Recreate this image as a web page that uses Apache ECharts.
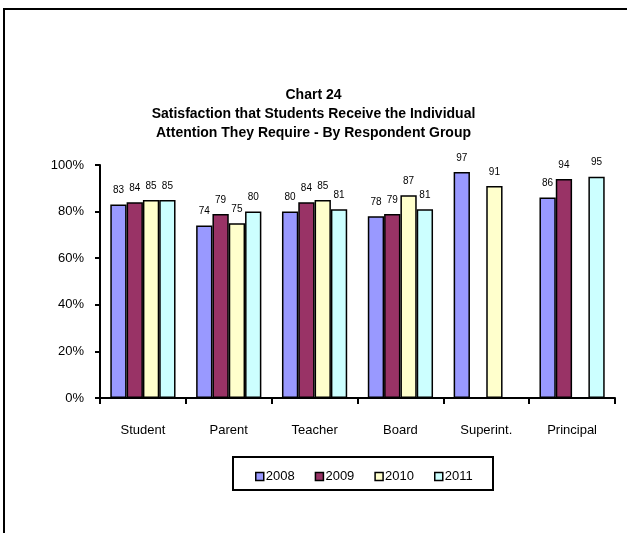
<!DOCTYPE html>
<html>
<head>
<meta charset="utf-8">
<script src="https://cdn.jsdelivr.net/npm/echarts@6/dist/echarts.min.js"></script>
<style>
  html, body { margin: 0; padding: 0; background: #fff; }
  #chart { width: 627px; height: 533px; }
</style>
</head>
<body>
<div id="chart"></div>
<script>
  var groups = ['Student', 'Parent', 'Teacher', 'Board', 'Superint.', 'Principal'];
  var years = ['2008', '2009', '2010', '2011'];
  var v2008 = [83, 74, 80, 78, 97, 86];
  var v2009 = [84, 79, 84, 79, null, 94];
  var v2010 = [85, 75, 85, 87, 91, null];
  var v2011 = [85, 80, 81, 81, null, 95];
  var yTicks = [0, 20, 40, 60, 80, 100];

  var colors = ['#9999ff', '#993366', '#ffffcc', '#ccffff'];
  var values = [v2008, v2009, v2010, v2011];
  var font = 'Arial, "Liberation Sans", sans-serif';

  var series = [];
  for (var i = 0; i < years.length; i++) {
    series.push({
      name: years[i],
      type: 'bar',
      data: values[i],
      barGap: '0%',
      barCategoryGap: '24%',
      itemStyle: { color: colors[i], borderColor: '#000', borderWidth: 1.5 },
      label: {
        show: true,
        position: 'top',
        distance: 9,
        color: '#000',
        fontSize: 10,
        fontFamily: font
      }
    });
  }

  var myChart = echarts.init(document.getElementById('chart'));
  myChart.setOption({
    animation: false,
    color: colors,
    title: {
      text: 'Chart 24\nSatisfaction that Students Receive the Individual\nAttention They Require - By Respondent Group',
      left: 'center',
      top: 81,
      textStyle: {
        fontFamily: font,
        fontSize: 14,
        fontWeight: 'bold',
        color: '#000',
        lineHeight: 19
      }
    },
    graphic: [{
      type: 'rect',
      shape: { x: 4, y: 9, width: 800, height: 800 },
      style: { fill: 'none', stroke: '#000', lineWidth: 2 }
    }, {
      type: 'rect',
      shape: { x: 233, y: 457, width: 260, height: 33 },
      style: { fill: 'none', stroke: '#000', lineWidth: 2 }
    }],
    legend: {
      data: years,
      top: 465,
      left: 250,
      itemWidth: 8,
      itemHeight: 8,
      itemGap: 20,
      icon: 'rect',
      itemStyle: { borderColor: '#000', borderWidth: 1.5 },
      textStyle: { fontFamily: font, fontSize: 13, color: '#000', padding: [0, 0, 0, -3] }
    },
    grid: { left: 100, right: 12, top: 165, bottom: 135 },
    xAxis: {
      type: 'category',
      data: groups,
      axisLine: { lineStyle: { color: '#000', width: 2 } },
      axisTick: { show: true, length: 6, lineStyle: { color: '#000', width: 2 } },
      axisLabel: { fontFamily: font, fontSize: 13, color: '#000', margin: 26 }
    },
    yAxis: {
      type: 'value',
      min: 0,
      max: 100,
      interval: 20,
      splitLine: { show: false },
      axisLine: { show: true, lineStyle: { color: '#000', width: 2 } },
      axisTick: { show: true, length: 5, lineStyle: { color: '#000', width: 2 } },
      axisLabel: {
        fontFamily: font, fontSize: 13, color: '#000', margin: 16,
        formatter: function (v) { return yTicks.indexOf(v) >= 0 ? v + '%' : ''; }
      }
    },
    series: series
  });
</script>
</body>
</html>
